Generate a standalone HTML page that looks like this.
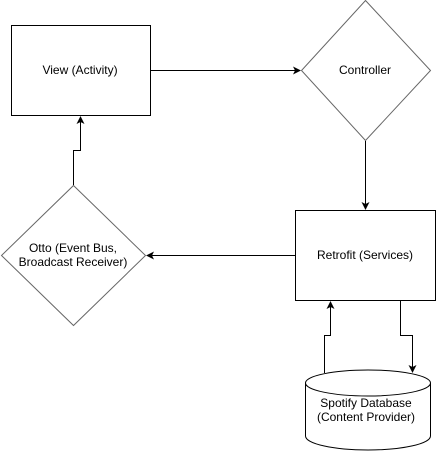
<!DOCTYPE html>
<html><head><style>body{margin:0;background:#fff}svg{display:block}text{font-family:"Liberation Sans",Arial,sans-serif;font-size:12px;fill:#000}</style></head>
<body>
<svg width="437" height="452" viewBox="0 0 437 452">
<defs><marker id="a" markerWidth="8" markerHeight="8" refX="7" refY="4" orient="auto" markerUnits="userSpaceOnUse"><path d="M0,0 L8,4 L0,8 L2,4 Z" fill="#000"/></marker></defs>
<g fill="#fff" stroke="#000" stroke-width="1">
<rect x="11.5" y="25.5" width="139" height="90"/>
<rect x="295.5" y="210.5" width="140" height="90"/>
</g>
<g fill="#fff" stroke="#666" stroke-width="1">
<path d="M365.5,0.5 L430.5,70.5 L365.5,140.5 L301.5,70.5 Z"/>
<path d="M73.5,185.5 L145.5,255.5 L73.5,325.5 L1.5,255.5 Z"/>
</g>
<g fill="none" stroke="#000" stroke-width="1">
<path d="M305.5,383 L305.5,436 A62.5,14 0 0 0 430.5,436 L430.5,383" fill="#fff"/>
<ellipse cx="368" cy="383" rx="62.5" ry="13" fill="#fff"/>
<path d="M151,70.5 L300,70.5" marker-end="url(#a)"/>
<path d="M365.5,141 L365.5,209" marker-end="url(#a)"/>
<path d="M295,255.5 L147,255.5" marker-end="url(#a)"/>
<path d="M73.5,185 L73.5,150.5 L80.5,150.5 L80.5,117" marker-end="url(#a)"/>
<path d="M400.5,301 L400.5,335.5 L412.5,335.5 L412.5,372" marker-end="url(#a)"/>
<path d="M324.5,373 L324.5,335.5 L330.5,335.5 L330.5,302" marker-end="url(#a)"/>
</g>
<text x="80" y="74" text-anchor="middle">View (Activity)</text>
<text x="365" y="74" text-anchor="middle">Controller</text>
<text x="365" y="259" text-anchor="middle">Retrofit (Services)</text>
<text x="73" y="252" text-anchor="middle">Otto (Event Bus,</text>
<text x="73" y="266" text-anchor="middle">Broadcast Receiver)</text>
<text x="366" y="407" text-anchor="middle">Spotify Database</text>
<text x="366" y="421" text-anchor="middle">(Content Provider)</text>
</svg>
</body></html>
